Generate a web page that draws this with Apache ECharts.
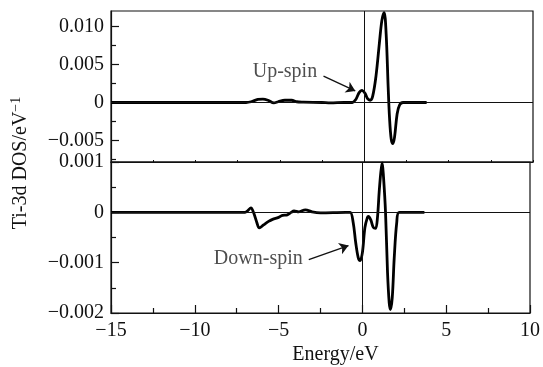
<!DOCTYPE html>
<html>
<head>
<meta charset="utf-8">
<script src="https://cdn.jsdelivr.net/npm/echarts@6/dist/echarts.min.js"></script>
<style>
  html, body { margin: 0; padding: 0; background: #fff; }
  #chart { width: 543px; height: 367px; }
</style>
</head>
<body>
<div id="chart"></div>
<script>
// Ti-3d DOS
const upEnergy = [-15, -8, -7.0, -6.7, -6.3, -6.0, -5.7, -5.35, -5.1, -4.7, -4.3, -4.0, -3.6, -2.5, -2.0, -1.2, -0.7,
  -0.5, -0.3, -0.14, 0.05, 0.2, 0.35, 0.5, 0.7, 0.9, 1.05, 1.18, 1.3, 1.42, 1.5, 1.6, 1.7, 1.8, 1.95, 2.1, 2.3, 3.7];
const upDos = [0, 0, 0, 0.0001, 0.0004, 0.00045, 0.0003, -0.00005, 0.0001, 0.0003, 0.0003, 0.0001, 0.00005, 0, -0.00005, 0, 0,
  0.0004, 0.0013, 0.0016, 0.0012, 0.0005, 0.0003, 0.0008, 0.0035, 0.0078, 0.0108, 0.0118, 0.009, 0.002, -0.002, -0.0048, -0.0054, -0.0045, -0.0015, -0.0003, 0, 0];

const downEnergy = [-15, -7.0, -6.85, -6.65, -6.5, -6.3, -6.15, -5.9, -5.6, -5.36, -5.0, -4.77, -4.48, -4.25, -4.08, -3.8, -3.4, -3.0, -2.5, -1.0,
  -0.73, -0.55, -0.4, -0.25, -0.14, 0.0, 0.15, 0.3, 0.36, 0.5, 0.65, 0.79, 0.9, 1.0, 1.1, 1.18, 1.26, 1.38, 1.5, 1.6, 1.67, 1.78, 1.9, 2.05, 2.2, 3.7];
const downDos = [0, 0, 0.00003, 0.00009, 0, -0.0002, -0.00031, -0.00025, -0.00018, -0.00014, -0.0001, -0.00006, -0.00005, 0, 0.00003, 0.00001, 0.00005, 0.00001, -0.00001, 0,
  0, -0.0002, -0.0006, -0.0009, -0.00096, -0.0008, -0.0003, -0.0001, -0.00008, -0.00015, -0.0003, -0.00032, -0.0001, 0.0004, 0.0008, 0.00098, 0.0007, 0, -0.0012, -0.0018, -0.00193, -0.0017, -0.0009, -0.0002, 0, 0];

const upTicks = [-0.005, 0, 0.005, 0.01];
const upMinorTicks = [-0.0075, -0.0025, 0.0025, 0.0075];

// annotation text and arrows, in data units
const upNote = { text: 'Up-spin', at: [-2.67, 0.00397], arrow: [[-2.41, 0.00345], [-0.53, 0.00152]] };
const downNote = { text: 'Down-spin', at: [-3.44, -0.00092], arrow: [[-3.2, -0.00094], [-0.83, -0.00066]] };

const font = 'Liberation Serif';
const ink = '#111';

const zip = (xs, ys) => xs.map((x, i) => [x, ys[i]]);
const minus = s => s.replace('-', '\u2212');
const yFmt = v => (Math.abs(v) < 1e-9 ? '0' : minus(v.toFixed(3)));
const xFmt = v => minus(String(v));

const axisLine = { show: true, onZero: false, lineStyle: { color: ink, width: 1.2 } };
const labelStyle = { fontFamily: font, fontSize: 20, color: ink };

const chart = echarts.init(document.getElementById('chart'));

function curve(data, idx, yIdx) {
  return {
    type: 'line', xAxisIndex: idx, yAxisIndex: yIdx, data,
    showSymbol: false, smooth: 0.35,
    lineStyle: { color: '#000', width: 2.8 },
    markLine: {
      silent: true, symbol: 'none', label: { show: false },
      lineStyle: { color: ink, width: 1, type: 'solid' },
      data: [{ yAxis: 0 }, { xAxis: 0 }]
    }
  };
}

function note(n, idx, yIdx) {
  return [{
    type: 'scatter', xAxisIndex: idx, yAxisIndex: yIdx, symbolSize: 0,
    data: [n.at],
    label: { show: true, position: 'left', distance: 2, formatter: n.text, ...labelStyle, color: '#222' }
  }, {
    type: 'lines', coordinateSystem: 'cartesian2d', xAxisIndex: idx, yAxisIndex: yIdx,
    symbol: ['none', 'arrow'], symbolSize: 9,
    lineStyle: { color: ink, width: 1.3, opacity: 1 },
    data: [{ coords: n.arrow }]
  }];
}

chart.setOption({
  animation: false,
  grid: [
    { left: 111, right: 10, top: 11, height: 151, show: true, borderColor: ink, borderWidth: 1.2 },
    { left: 111, right: 10, top: 162, height: 151, show: true, borderColor: ink, borderWidth: 1.2 }
  ],
  xAxis: [
    {
      type: 'value', gridIndex: 0, min: -15, max: 10, interval: 5,
      axisLine, axisLabel: { show: false }, splitLine: { show: false },
      axisTick: { inside: true, length: 2, lineStyle: { color: ink } },
      minorTick: { show: true, splitNumber: 2, length: 2, lineStyle: { color: ink } }
    },
    {
      type: 'value', gridIndex: 1, min: -15, max: 10, interval: 5,
      axisLine, splitLine: { show: false },
      axisTick: { inside: true, length: 8, lineStyle: { color: ink, width: 1.2 } },
      minorTick: { show: true, splitNumber: 2, length: 5, lineStyle: { color: ink, width: 1.2 } },
      axisLabel: { margin: 8, formatter: xFmt, ...labelStyle },
      name: 'Energy/eV', nameLocation: 'middle', nameGap: 32,
      nameTextStyle: { ...labelStyle, padding: [0, 0, 0, 30] }
    }
  ],
  yAxis: [
    {
      type: 'value', gridIndex: 0, min: -0.0078, max: 0.012, position: 'left',
      axisLine, splitLine: { show: false },
      axisTick: { inside: true, length: 8, customValues: upTicks, lineStyle: { color: ink, width: 1.2 } },
      axisLabel: { margin: 7, customValues: upTicks, formatter: yFmt, ...labelStyle }
    },
    {
      type: 'value', gridIndex: 0, min: -0.0078, max: 0.012, position: 'left', offset: 0,
      axisLine: { show: false, onZero: false }, splitLine: { show: false }, axisLabel: { show: false },
      axisTick: { inside: true, length: 5, customValues: upMinorTicks, lineStyle: { color: ink, width: 1.2 } }
    },
    {
      type: 'value', gridIndex: 1, min: -0.002, max: 0.001, interval: 0.001,
      axisLine, splitLine: { show: false },
      axisTick: { inside: true, length: 8, lineStyle: { color: ink, width: 1.2 } },
      minorTick: { show: true, splitNumber: 2, length: 5, lineStyle: { color: ink, width: 1.2 } },
      axisLabel: { margin: 7, formatter: yFmt, ...labelStyle }
    }
  ],
  graphic: [{
    type: 'text', x: 21, y: 163, rotation: Math.PI / 2,
    style: {
      text: 'Ti-3d DOS/eV{sup|\u22121}',
      fontFamily: font, fontSize: 20, fill: ink,
      align: 'center', verticalAlign: 'middle',
      rich: { sup: { fontFamily: font, fontSize: 14, fill: ink, verticalAlign: 'top', padding: [0, 0, 10, 0] } }
    }
  }],
  series: [
    curve(zip(upEnergy, upDos), 0, 0),
    curve(zip(downEnergy, downDos), 1, 2),
    ...note(upNote, 0, 0),
    ...note(downNote, 1, 2)
  ]
});
</script>
</body>
</html>
